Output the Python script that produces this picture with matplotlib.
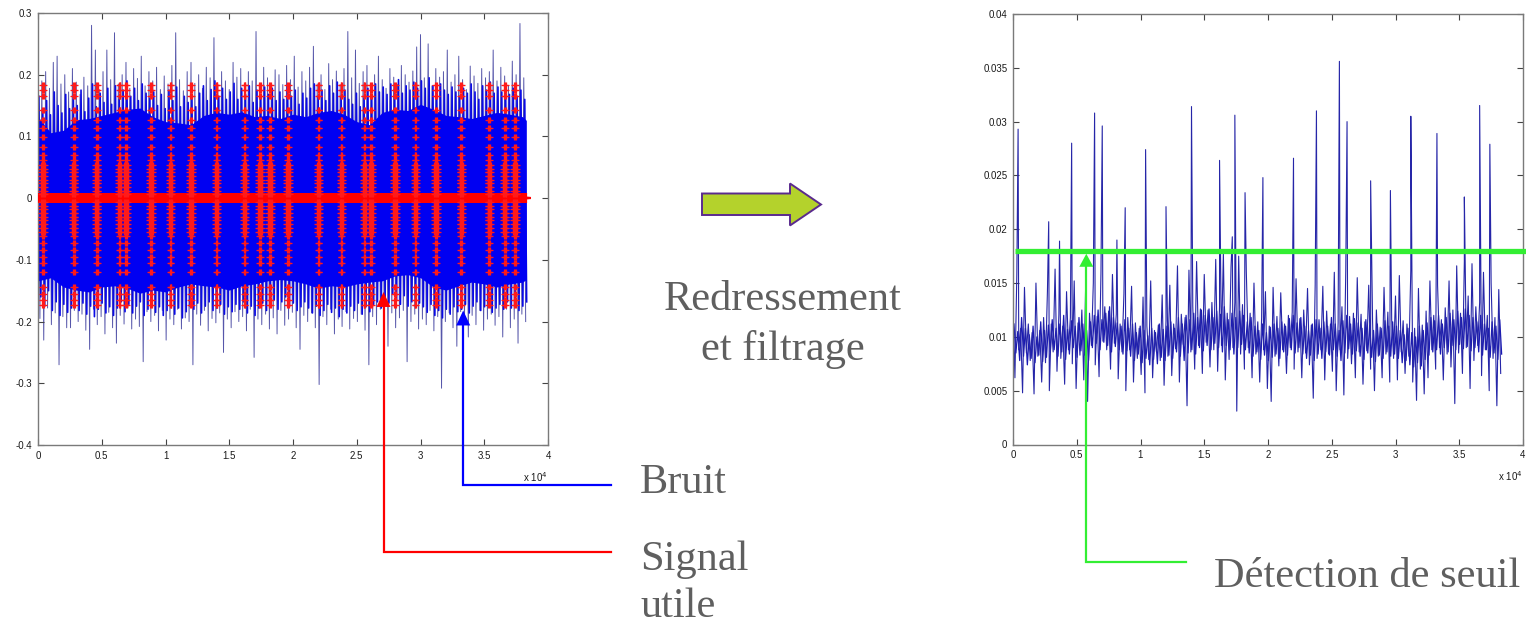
import numpy as np
import matplotlib
matplotlib.use("Agg")
import matplotlib.pyplot as plt
from matplotlib.patches import Polygon

W, H = 1526, 623

# ---------------- raw noisy recording (left panel) ----------------
# outer noise extremes: one maximum / minimum pair every 300 samples
noise_hi = [
    0.165, 0.190, 0.205, 0.178, 0.220, 0.230, 0.185, 0.200, 0.172, 0.210,
    0.188, 0.168, 0.196, 0.182, 0.280, 0.240, 0.176, 0.205, 0.240, 0.192,
    0.268, 0.185, 0.200, 0.220, 0.178, 0.210, 0.194, 0.230, 0.182, 0.205,
    0.190, 0.212, 0.176, 0.198, 0.185, 0.215, 0.268, 0.192, 0.174, 0.205,
    0.220, 0.186, 0.200, 0.178, 0.212, 0.195, 0.260, 0.184, 0.205, 0.190,
    0.176, 0.220, 0.196, 0.210, 0.182, 0.205, 0.190, 0.270, 0.186, 0.212,
    0.195, 0.178, 0.208, 0.200, 0.184, 0.215, 0.192, 0.230, 0.180, 0.205,
    0.190, 0.212, 0.246, 0.185, 0.200, 0.176, 0.218, 0.192, 0.206, 0.184,
    0.210, 0.270, 0.195, 0.240, 0.186, 0.205, 0.215, 0.180, 0.200, 0.230,
    0.192, 0.178, 0.210, 0.196, 0.184, 0.215, 0.200, 0.188, 0.206, 0.245,
    0.265, 0.195, 0.250, 0.182, 0.210, 0.196, 0.205, 0.240, 0.188, 0.200,
    0.230, 0.192, 0.176, 0.214, 0.198, 0.186, 0.210, 0.195, 0.205, 0.240,
    0.190, 0.212, 0.198, 0.182, 0.222, 0.200, 0.283, 0.195,
]
noise_lo = [
    -0.195, -0.230, -0.178, -0.205, -0.186, -0.270, -0.192, -0.210, -0.210, -0.182,
    -0.200, -0.188, -0.214, -0.245, -0.180, -0.205, -0.192, -0.220, -0.185, -0.210,
    -0.235, -0.190, -0.204, -0.178, -0.212, -0.196, -0.208, -0.265, -0.184, -0.200,
    -0.190, -0.215, -0.182, -0.230, -0.196, -0.205, -0.180, -0.212, -0.194, -0.200,
    -0.270, -0.188, -0.206, -0.182, -0.215, -0.195, -0.202, -0.186, -0.250, -0.196,
    -0.210, -0.184, -0.200, -0.192, -0.215, -0.180, -0.258, -0.196, -0.205, -0.188,
    -0.212, -0.194, -0.220, -0.182, -0.206, -0.196, -0.185, -0.210, -0.245, -0.190,
    -0.200, -0.186, -0.210, -0.302, -0.192, -0.205, -0.180, -0.220, -0.196, -0.208,
    -0.184, -0.212, -0.195, -0.200, -0.188, -0.214, -0.270, -0.192, -0.205, -0.180,
    -0.198, -0.240, -0.186, -0.210, -0.194, -0.182, -0.265, -0.200, -0.188, -0.212,
    -0.196, -0.205, -0.182, -0.215, -0.192, -0.308, -0.200, -0.186, -0.210, -0.240,
    -0.184, -0.198, -0.225, -0.190, -0.205, -0.182, -0.214, -0.196, -0.188, -0.206,
    -0.192, -0.225, -0.180, -0.210, -0.196, -0.235, -0.188, -0.200,
]
# inner noise extremes, offset by a quarter period from the outer ones
inner_hi = [
    0.165, 0.142, 0.158, 0.135, 0.172, 0.150, 0.138, 0.168, 0.145, 0.160,
    0.150, 0.175, 0.140, 0.162, 0.185, 0.148, 0.170, 0.155, 0.178, 0.152,
    0.182, 0.160, 0.175, 0.190, 0.165, 0.178, 0.158, 0.185, 0.170, 0.162,
    0.172, 0.150, 0.168, 0.145, 0.175, 0.158, 0.180, 0.148, 0.165, 0.155,
    0.160, 0.148, 0.170, 0.182, 0.158, 0.176, 0.190, 0.165, 0.178, 0.160,
    0.172, 0.186, 0.160, 0.178, 0.168, 0.182, 0.155, 0.175, 0.165, 0.180,
    0.168, 0.178, 0.158, 0.172, 0.160, 0.185, 0.165, 0.175, 0.152, 0.170,
    0.162, 0.178, 0.185, 0.165, 0.175, 0.158, 0.182, 0.170, 0.188, 0.165,
    0.175, 0.160, 0.152, 0.170, 0.148, 0.162, 0.178, 0.168, 0.185, 0.172,
    0.180, 0.168, 0.185, 0.176, 0.192, 0.170, 0.182, 0.175, 0.188, 0.178,
    0.190, 0.178, 0.195, 0.182, 0.170, 0.185, 0.175, 0.168, 0.180, 0.172,
    0.165, 0.178, 0.170, 0.185, 0.172, 0.160, 0.182, 0.175, 0.188, 0.170,
    0.180, 0.172, 0.185, 0.168, 0.178, 0.165, 0.175, 0.160,
]
inner_lo = [
    -0.160, -0.175, -0.150, -0.182, -0.168, -0.190, -0.172, -0.185, -0.178, -0.165,
    -0.182, -0.170, -0.188, -0.175, -0.192, -0.180, -0.170, -0.186, -0.176, -0.190,
    -0.178, -0.168, -0.184, -0.172, -0.186, -0.175, -0.168, -0.190, -0.180, -0.172,
    -0.185, -0.176, -0.190, -0.182, -0.172, -0.188, -0.178, -0.194, -0.184, -0.175,
    -0.180, -0.170, -0.186, -0.175, -0.168, -0.182, -0.178, -0.172, -0.188, -0.176,
    -0.184, -0.172, -0.180, -0.168, -0.186, -0.175, -0.190, -0.178, -0.170, -0.182,
    -0.172, -0.165, -0.180, -0.168, -0.160, -0.175, -0.170, -0.182, -0.176, -0.168,
    -0.178, -0.186, -0.175, -0.190, -0.182, -0.172, -0.185, -0.178, -0.192, -0.180,
    -0.186, -0.175, -0.182, -0.170, -0.188, -0.176, -0.184, -0.172, -0.168, -0.178,
    -0.160, -0.170, -0.155, -0.165, -0.172, -0.158, -0.175, -0.168, -0.162, -0.170,
    -0.176, -0.185, -0.172, -0.190, -0.182, -0.194, -0.180, -0.188, -0.176, -0.184,
    -0.180, -0.172, -0.186, -0.175, -0.168, -0.182, -0.176, -0.170, -0.185, -0.178,
    -0.172, -0.180, -0.168, -0.178, -0.170, -0.182, -0.175, -0.168,
]
# dense core of the noise band (one value every 1000 samples)
core_x = [0, 1000, 2000, 3000, 4000, 5000, 6000, 7000, 8000, 9000,
          10000, 11000, 12000, 13000, 14000, 15000, 16000, 17000, 18000, 19000,
          20000, 21000, 22000, 23000, 24000, 25000, 26000, 27000, 28000, 29000,
          30000, 31000, 32000, 33000, 34000, 35000, 36000, 37000, 38000, 38300]
core_hi = [0.132, 0.106, 0.110, 0.127, 0.129, 0.134, 0.139, 0.144, 0.146, 0.132,
           0.124, 0.122, 0.119, 0.134, 0.139, 0.136, 0.140, 0.132, 0.134, 0.129,
           0.136, 0.132, 0.139, 0.142, 0.136, 0.124, 0.119, 0.139, 0.144, 0.142,
           0.152, 0.144, 0.134, 0.132, 0.129, 0.134, 0.139, 0.136, 0.132, 0.126]
core_lo = [-0.134, -0.129, -0.144, -0.149, -0.152, -0.144, -0.142, -0.146, -0.154, -0.149,
           -0.152, -0.144, -0.139, -0.142, -0.144, -0.149, -0.142, -0.139, -0.134, -0.132,
           -0.134, -0.139, -0.146, -0.142, -0.144, -0.139, -0.136, -0.134, -0.126, -0.124,
           -0.129, -0.144, -0.149, -0.142, -0.136, -0.139, -0.144, -0.139, -0.136, -0.132]

# useful signal: zero outside the bursts, bursts of oscillation at these samples
signal_end = 38300
burst_pos = [400, 2800, 4600, 6400, 6900, 8850, 10400, 12000, 14000, 16200, 17400, 18200,
             19600, 22000, 23800, 25600, 26100, 28000, 29600, 31200, 33200, 35400, 36600, 37400]
burst_levels = [0.183, 0.175, 0.165, 0.143, 0.126, 0.113, 0.099, 0.083, 0.070, 0.062,
                0.054, 0.048, 0.042, 0.036, 0.030, 0.024, 0.018, 0.012, 0.006,
                -0.006, -0.012, -0.018, -0.024, -0.030, -0.036, -0.042, -0.048, -0.055,
                -0.062, -0.073, -0.084, -0.095, -0.105, -0.120, -0.144, -0.155, -0.165, -0.173]

# ---------------- rectified and filtered signal (right panel) ----------------
filt_hi = [
    0.0128, 0.0158, 0.0108, 0.0146, 0.0112, 0.0104, 0.0150, 0.0106, 0.0118, 0.0142,
    0.0112, 0.0163, 0.0121, 0.0110, 0.0142, 0.0118, 0.0152, 0.0113, 0.0125, 0.0148,
    0.0122, 0.0150, 0.0119, 0.0160, 0.0128, 0.0124, 0.0158, 0.0121, 0.0112, 0.0140,
    0.0118, 0.0147, 0.0113, 0.0108, 0.0137, 0.0110, 0.0152, 0.0106, 0.0111, 0.0139,
    0.0115, 0.0148, 0.0112, 0.0166, 0.0121, 0.0118, 0.0162, 0.0128, 0.0170, 0.0126,
    0.0158, 0.0125, 0.0132, 0.0172, 0.0128, 0.0178, 0.0122, 0.0165, 0.0132, 0.0175,
    0.0130, 0.0160, 0.0122, 0.0150, 0.0114, 0.0118, 0.0142, 0.0110, 0.0146, 0.0119,
    0.0141, 0.0112, 0.0120, 0.0123, 0.0154, 0.0117, 0.0125, 0.0145, 0.0111, 0.0148,
    0.0116, 0.0147, 0.0124, 0.0112, 0.0160, 0.0113, 0.0128, 0.0162, 0.0119, 0.0122,
    0.0155, 0.0121, 0.0114, 0.0148, 0.0115, 0.0125, 0.0109, 0.0146, 0.0123, 0.0116,
    0.0138, 0.0157, 0.0115, 0.0112, 0.0162, 0.0108, 0.0145, 0.0111, 0.0124, 0.0152,
    0.0120, 0.0148, 0.0116, 0.0127, 0.0152, 0.0125, 0.0166, 0.0122, 0.0170, 0.0138,
    0.0168, 0.0128, 0.0132, 0.0160, 0.0120, 0.0150, 0.0118, 0.0144,
]
filt_lo = [
    0.0062, 0.0088, 0.0048, 0.0085, 0.0078, 0.0047, 0.0082, 0.0058, 0.0076, 0.0050,
    0.0086, 0.0068, 0.0080, 0.0056, 0.0088, 0.0075, 0.0052, 0.0083, 0.0060, 0.0040,
    0.0092, 0.0074, 0.0063, 0.0096, 0.0088, 0.0070, 0.0094, 0.0061, 0.0086, 0.0050,
    0.0088, 0.0058, 0.0080, 0.0065, 0.0048, 0.0079, 0.0062, 0.0086, 0.0078, 0.0055,
    0.0082, 0.0064, 0.0089, 0.0058, 0.0093, 0.0036, 0.0086, 0.0070, 0.0092, 0.0066,
    0.0095, 0.0072, 0.0088, 0.0068, 0.0092, 0.0060, 0.0079, 0.0090, 0.0031, 0.0084,
    0.0070, 0.0090, 0.0062, 0.0084, 0.0058, 0.0088, 0.0052, 0.0040, 0.0082, 0.0073,
    0.0088, 0.0066, 0.0090, 0.0070, 0.0086, 0.0062, 0.0085, 0.0074, 0.0043, 0.0080,
    0.0088, 0.0060, 0.0084, 0.0068, 0.0050, 0.0088, 0.0046, 0.0080, 0.0075, 0.0062,
    0.0086, 0.0056, 0.0087, 0.0070, 0.0050, 0.0082, 0.0062, 0.0084, 0.0058, 0.0080,
    0.0060, 0.0086, 0.0066, 0.0082, 0.0058, 0.0041, 0.0070, 0.0047, 0.0062, 0.0088,
    0.0070, 0.0090, 0.0060, 0.0084, 0.0072, 0.0038, 0.0085, 0.0066, 0.0090, 0.0052,
    0.0078, 0.0092, 0.0064, 0.0088, 0.0050, 0.0080, 0.0036, 0.0066,
]
# small, fast ripple around the running level of the filtered signal
fine_hi = [
    0.0112, 0.0105, 0.0118, 0.0108, 0.0102, 0.0110, 0.0100, 0.0114, 0.0106, 0.0111,
    0.0116, 0.0108, 0.0112, 0.0120, 0.0107, 0.0115, 0.0110, 0.0118, 0.0112, 0.0106,
    0.0114, 0.0120, 0.0125, 0.0116, 0.0122, 0.0128, 0.0118, 0.0113, 0.0110, 0.0116,
    0.0108, 0.0112, 0.0104, 0.0110, 0.0106, 0.0101, 0.0108, 0.0104, 0.0112, 0.0107,
    0.0110, 0.0114, 0.0108, 0.0118, 0.0112, 0.0120, 0.0116, 0.0122, 0.0118, 0.0125,
    0.0120, 0.0126, 0.0118, 0.0124, 0.0121, 0.0128, 0.0116, 0.0122, 0.0118, 0.0124,
    0.0120, 0.0114, 0.0118, 0.0110, 0.0106, 0.0112, 0.0104, 0.0109, 0.0112, 0.0108,
    0.0114, 0.0110, 0.0117, 0.0120, 0.0113, 0.0118, 0.0110, 0.0106, 0.0112, 0.0116,
    0.0108, 0.0114, 0.0110, 0.0118, 0.0112, 0.0106, 0.0115, 0.0120, 0.0112, 0.0117,
    0.0113, 0.0108, 0.0116, 0.0111, 0.0106, 0.0112, 0.0108, 0.0115, 0.0110, 0.0114,
    0.0110, 0.0106, 0.0102, 0.0108, 0.0104, 0.0100, 0.0110, 0.0106, 0.0113, 0.0118,
    0.0115, 0.0120, 0.0112, 0.0118, 0.0122, 0.0116, 0.0124, 0.0118, 0.0126, 0.0120,
    0.0118, 0.0114, 0.0120, 0.0112, 0.0108, 0.0114, 0.0110, 0.0116,
]
fine_lo = [
    0.0085, 0.0078, 0.0082, 0.0074, 0.0080, 0.0076, 0.0083, 0.0077, 0.0081, 0.0086,
    0.0088, 0.0082, 0.0086, 0.0079, 0.0084, 0.0090, 0.0081, 0.0087, 0.0083, 0.0078,
    0.0090, 0.0094, 0.0088, 0.0095, 0.0092, 0.0086, 0.0091, 0.0088, 0.0084, 0.0087,
    0.0082, 0.0078, 0.0084, 0.0076, 0.0080, 0.0074, 0.0079, 0.0075, 0.0081, 0.0078,
    0.0083, 0.0080, 0.0086, 0.0082, 0.0078, 0.0085, 0.0088, 0.0084, 0.0090, 0.0087,
    0.0092, 0.0088, 0.0094, 0.0090, 0.0086, 0.0092, 0.0088, 0.0084, 0.0090, 0.0093,
    0.0088, 0.0085, 0.0082, 0.0086, 0.0079, 0.0083, 0.0078, 0.0081, 0.0084, 0.0080,
    0.0086, 0.0083, 0.0088, 0.0085, 0.0090, 0.0084, 0.0080, 0.0083, 0.0078, 0.0084,
    0.0080, 0.0086, 0.0083, 0.0088, 0.0082, 0.0078, 0.0085, 0.0089, 0.0084, 0.0087,
    0.0082, 0.0079, 0.0085, 0.0081, 0.0077, 0.0083, 0.0080, 0.0086, 0.0082, 0.0084,
    0.0080, 0.0076, 0.0078, 0.0074, 0.0072, 0.0076, 0.0073, 0.0079, 0.0083, 0.0086,
    0.0088, 0.0084, 0.0090, 0.0086, 0.0092, 0.0088, 0.0093, 0.0089, 0.0091, 0.0087,
    0.0090, 0.0086, 0.0083, 0.0088, 0.0081, 0.0085, 0.0079, 0.0084,
]
peak_pos = [400, 2800, 3650, 4600, 6400, 7000, 8150, 8800, 10400, 12000, 14000, 16200,
            17200, 17400, 18200, 19600, 22000, 23800, 25600, 26200, 28050, 29600, 31200,
            33250, 35400, 36600, 37400]
peak_val = [0.0293, 0.0207, 0.0189, 0.0280, 0.0308, 0.0296, 0.0190, 0.0220, 0.0274, 0.0221,
            0.0314, 0.0264, 0.0193, 0.0306, 0.0234, 0.0248, 0.0266, 0.0310, 0.0356, 0.0300,
            0.0245, 0.0236, 0.0305, 0.0289, 0.0230, 0.0315, 0.0279]
threshold = 0.018
threshold_mark = 5750

# tick labels
x_ticks = [0, 5000, 10000, 15000, 20000, 25000, 30000, 35000, 40000]
x_labels = ["0", "0.5", "1", "1.5", "2", "2.5", "3", "3.5", "4"]
left_yticks = [-0.4, -0.3, -0.2, -0.1, 0.0, 0.1, 0.2, 0.3]
left_ylabels = ["-0.4", "-0.3", "-0.2", "-0.1", "0", "0.1", "0.2", "0.3"]
right_yticks = [0, 0.005, 0.01, 0.015, 0.02, 0.025, 0.03, 0.035, 0.04]
right_ylabels = ["0", "0.005", "0.01", "0.015", "0.02", "0.025", "0.03", "0.035", "0.04"]

# ---------------------------------------------------------------------------
fig = plt.figure(figsize=(W / 100, H / 100), dpi=100)
fig.patch.set_facecolor("white")
sans = "Liberation Sans"
serif = "Liberation Serif"
grey_txt = "#5f5f5f"


def style_axes(ax, yticks, ylabels):
    ax.set_xlim(0, 40000)
    ax.set_xticks(x_ticks)
    ax.set_xticklabels(x_labels)
    ax.set_yticks(yticks)
    ax.set_yticklabels(ylabels)
    ax.tick_params(direction="in", length=4, width=0.8, color="#444444",
                   labelsize=7, labelcolor="#1a1a1a", top=True, right=True, pad=4)
    for lab in ax.get_xticklabels() + ax.get_yticklabels():
        lab.set_family(sans)
    for sp in ax.spines.values():
        sp.set_color("#7a7a7a")
        sp.set_linewidth(1.0)
    ax.annotate("x 10$^{4}$", xy=(1, 0), xycoords="axes fraction", xytext=(0, -32),
                textcoords="offset pixels", ha="right", va="center", fontsize=7,
                family=sans, color="#1a1a1a")


def zigzag(hi, lo, step, off_hi, off_lo):
    g = np.arange(len(hi)) * step
    xs = np.column_stack([g + off_hi, g + off_lo]).ravel()
    ys = np.column_stack([hi, lo]).ravel()
    return xs, ys


# ---- left panel
axL = fig.add_axes([38 / W, 1 - 445 / H, 510 / W, 432 / H])
axL.set_ylim(-0.4, 0.3)
style_axes(axL, left_yticks, left_ylabels)

ox, oy = zigzag(noise_hi, noise_lo, 300, 0, 150)
axL.plot(ox, oy, color="#5656aa", lw=0.7, zorder=1)
ix, iy = zigzag(inner_hi, inner_lo, 300, 75, 225)
axL.plot(ix, iy, color="#0a0ae6", lw=1.2, zorder=1.5)
axL.fill_between(core_x, core_lo, core_hi, color="#0000f2", lw=0, zorder=2)

zero_x = np.arange(0, signal_end + 1, 100)
axL.plot(zero_x, np.zeros(len(zero_x)), ls="none", marker="+", ms=7, mew=1.6,
         color="#ff0000", zorder=3)
bx, by = [], []
for p in burst_pos:
    for lv in burst_levels:
        offs = (-140, -70, 0, 70, 140) if abs(lv) < 0.06 else (-70, 0, 70)
        for off in offs:
            bx.append(p + off)
            by.append(lv)
axL.plot(bx, by, ls="none", marker="+", ms=5, mew=0.9, color="#ff1a1a", zorder=3)

# ---- right panel
axR = fig.add_axes([1013 / W, 1 - 444.5 / H, 510 / W, 430.5 / H])
axR.set_ylim(0, 0.04)
style_axes(axR, right_yticks, right_ylabels)

sx, sy = zigzag(fine_hi, fine_lo, 300, 75, 225)
axR.plot(sx, sy, color="#1a1ab4", lw=0.9, zorder=2)
fx, fy = zigzag(filt_hi, filt_lo, 300, 0, 150)
fx = np.concatenate([fx, peak_pos])
fy = np.concatenate([fy, peak_val])
order = np.argsort(fx, kind="stable")
axR.plot(fx[order], fy[order], color="#2626a8", lw=0.8, zorder=2)
axR.plot([150, 40210], [threshold, threshold], color="#33ee33", lw=3.8,
         solid_capstyle="butt", clip_on=False, zorder=4)

# ---- overlay in pixel coordinates for arrows and captions
ov = fig.add_axes([0, 0, 1, 1], zorder=10)
ov.set_xlim(0, W)
ov.set_ylim(H, 0)
ov.axis("off")
ov.patch.set_alpha(0)


def to_px(ax, x, y):
    dx, dy = ax.transData.transform((x, y))
    return dx, H - dy


def callout(tip, corner_y, end_x, color, head_w=7, head_h=15):
    tx, ty = tip
    ov.plot([tx, tx, end_x], [ty + head_h - 1, corner_y, corner_y], color=color,
            lw=1.6, solid_joinstyle="miter")
    ov.add_patch(Polygon([(tx, ty), (tx - head_w, ty + head_h), (tx + head_w, ty + head_h)],
                         closed=True, facecolor=color, edgecolor="none"))


callout(to_px(axL, 27100, -0.152), 552, 611, "#ff0000")
callout(to_px(axL, 33350, -0.182), 485, 611, "#0000ff")
gx, gy = to_px(axR, threshold_mark, threshold)
callout((gx, gy + 3), 562, 1186, "#33ee33", head_w=7, head_h=13)

# block arrow between the panels
ov.add_patch(Polygon([(702, 193.5), (790, 193.5), (790, 183.5), (821, 204.5),
                      (790, 225.5), (790, 215), (702, 215)], closed=True,
                     facecolor="#b4d22c", edgecolor="#5a2a8e", lw=1.4,
                     joinstyle="miter"))

txt = dict(family=serif, fontsize=30.5, color=grey_txt, va="baseline")
ov.text(783, 310, "Redressement", ha="center", **txt)
ov.text(783, 360, "et filtrage", ha="center", **txt)
ov.text(640, 493, "Bruit", ha="left", **txt)
ov.text(640, 570, "Signal", ha="left", **txt)
ov.text(640, 617, "utile", ha="left", **txt)
ov.text(1214, 587, "Détection de seuil", ha="left", **txt)

fig.savefig("out.png", dpi=100, facecolor="white")
